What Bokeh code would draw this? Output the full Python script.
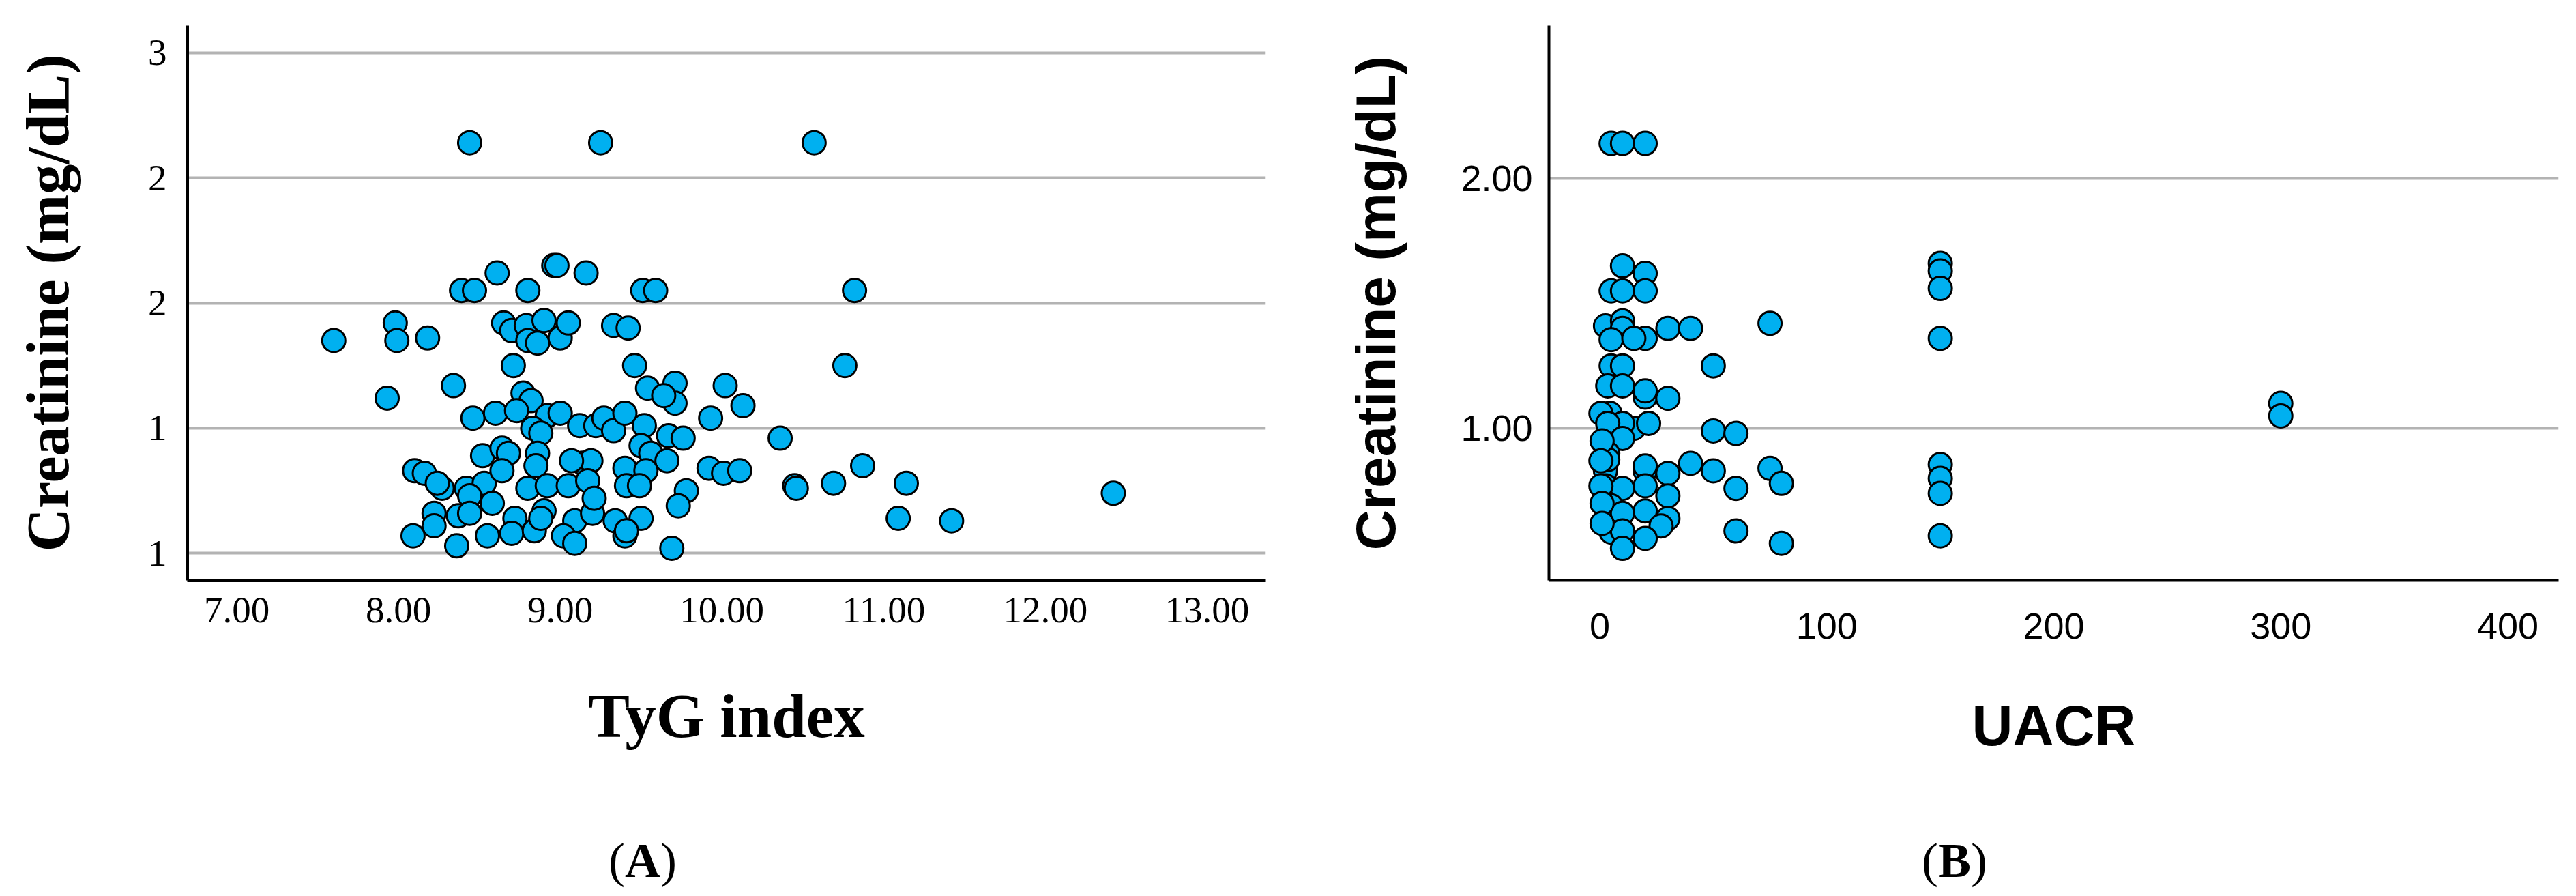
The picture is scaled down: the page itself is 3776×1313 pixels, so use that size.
from bokeh.plotting import figure
from bokeh.models import FixedTicker, NumeralTickFormatter, Range1d, Div
from bokeh.layouts import row, column
from bokeh.embed import file_html
from bokeh.resources import INLINE

# ---------------- Panel A data: TyG index vs creatinine ----------------
tyg = [8.44, 9.25, 10.57, 10.82,
       8.39, 8.47, 8.61, 8.80, 8.96, 8.98, 9.16, 9.51, 9.59,
       7.60, 7.98, 7.99, 8.18, 8.65, 8.70, 8.79, 8.80, 8.86, 8.90, 9.00, 9.05, 9.33, 9.42,
       8.71, 9.46, 7.93, 8.34, 9.54, 9.71, 9.71, 9.64, 10.02, 9.93, 8.77, 8.82, 8.46, 8.60,
       8.73, 8.92, 9.00, 8.83, 8.88, 9.12, 9.22, 9.27, 9.33, 9.40, 9.52, 9.50, 9.67, 9.76,
       9.56, 9.66, 9.92, 10.01, 10.11, 8.52, 8.64, 8.68, 8.86, 8.85, 8.10, 8.16, 8.27, 8.24,
       8.42, 8.53, 8.64, 8.80, 8.92, 9.05, 9.14, 9.19, 9.07, 9.17, 9.40, 9.41, 9.53, 9.49,
       9.78, 9.73, 8.58, 8.44, 8.22, 8.37, 8.44, 8.22, 8.09, 8.36, 8.55, 8.72, 8.70, 8.84,
       8.90, 8.88, 9.09, 9.02, 9.09, 9.20, 9.21, 9.34, 9.40, 9.50, 9.69, 9.41,
       10.76, 10.13, 10.36, 10.45, 10.46, 10.69, 10.87, 11.14, 11.09, 11.42, 12.42]
creat_a = [2.14, 2.14, 2.14, 1.55,
           1.55, 1.55, 1.62, 1.55, 1.65, 1.65, 1.62, 1.55, 1.55,
           1.35, 1.42, 1.35, 1.36, 1.42, 1.39, 1.41, 1.35, 1.34, 1.43, 1.36, 1.42, 1.41, 1.40,
           1.25, 1.25, 1.12, 1.17, 1.16, 1.18, 1.10, 1.13, 1.17, 1.04, 1.14, 1.11, 1.04, 1.06,
           1.07, 1.05, 1.06, 1.00, 0.98, 1.01, 1.01, 1.04, 0.99, 1.06, 1.01, 0.93, 0.97, 0.96,
           0.90, 0.87, 0.84, 0.82, 0.83, 0.89, 0.92, 0.90, 0.90, 0.85, 0.83, 0.82, 0.76, 0.78,
           0.76, 0.78, 0.83, 0.76, 0.77, 0.77, 0.86, 0.87, 0.87, 0.79, 0.84, 0.77, 0.83, 0.77,
           0.75, 0.69, 0.70, 0.73, 0.66, 0.65, 0.66, 0.61, 0.57, 0.53, 0.57, 0.64, 0.58, 0.59,
           0.67, 0.64, 0.63, 0.57, 0.54, 0.66, 0.72, 0.63, 0.57, 0.64, 0.52, 0.59,
           1.25, 1.09, 0.96, 0.77, 0.76, 0.78, 0.85, 0.78, 0.64, 0.63, 0.74]

a_x_ticks = [7, 8, 9, 10, 11, 12, 13]
a_y_ticks = [0.5, 1.0, 1.5, 2.0, 2.5]
a_y_tick_labels = ["1", "1", "2", "2", "3"]

# ---------------- Panel B data: UACR vs creatinine ----------------
uacr = [5, 10, 20,
        10, 20, 5, 10, 20,
        75,
        2.5, 10, 10, 20, 30, 40, 5, 15,
        50, 5, 10,
        3.5, 10, 20, 20, 30,
        4.5, 0.5, 15, 21.5, 10, 3.5, 10,
        50, 60,
        3.5, 2.5, 3.5, 20, 20, 30, 40, 50, 60, 75, 80,
        2.5, 10, 20, 30, 5, 10, 20, 30, 27, 5, 10, 20, 10, 60, 80,
        0.5, 1, 1, 0.5, 1,
        150, 150, 150, 150, 150, 150, 150, 150,
        300, 300]
creat_b = [2.14, 2.14, 2.14,
           1.65, 1.62, 1.55, 1.55, 1.55,
           1.42,
           1.41, 1.43, 1.40, 1.36, 1.40, 1.40, 1.355, 1.36,
           1.25, 1.25, 1.25,
           1.17, 1.17, 1.125, 1.15, 1.12,
           1.06, 1.06, 1.00, 1.02, 1.02, 1.02, 0.96,
           0.99, 0.98,
           0.90, 0.83, 0.875, 0.83, 0.85, 0.82, 0.86, 0.83, 0.76, 0.84, 0.78,
           0.77, 0.76, 0.77, 0.73, 0.69, 0.66, 0.67, 0.64, 0.61, 0.585, 0.59, 0.56, 0.52, 0.59, 0.54,
           0.77, 0.70, 0.95, 0.87, 0.62,
           1.66, 1.63, 1.56, 1.36, 0.855, 0.80, 0.74, 0.57,
           1.10, 1.05]

b_x_ticks = [0, 100, 200, 300, 400]
b_y_ticks = [1.0, 2.0]

FILL = "#00b0f0"
SERIF = "Liberation Serif"
SANS = "Liberation Sans"
FIG_H = 1200


def style_common(p, axis_w):
    p.outline_line_color = None
    p.background_fill_color = "white"
    p.border_fill_color = "white"
    for ax in (p.xaxis[0], p.yaxis[0]):
        ax.axis_line_color = "black"
        ax.axis_line_width = axis_w
        ax.major_tick_line_color = None
        ax.minor_tick_line_color = None
        ax.major_tick_out = 0
        ax.major_tick_in = 0
        ax.major_label_text_color = "black"
        ax.axis_label_text_color = "black"
    p.xgrid.grid_line_color = None
    p.ygrid.grid_line_color = "#b3b3b3"
    p.ygrid.grid_line_width = 4


# ---------------- Panel A ----------------
pA = figure(width=1968, height=FIG_H,
            x_range=Range1d(6.694, 13.363), y_range=Range1d(0.392, 2.608),
            output_backend="svg", toolbar_location=None,
            min_border_left=274, min_border_right=113,
            min_border_top=32, min_border_bottom=FIG_H - 850)
style_common(pA, 5)
pA.xaxis.ticker = FixedTicker(ticks=a_x_ticks)
pA.xaxis.formatter = NumeralTickFormatter(format="0.00")
pA.yaxis.ticker = FixedTicker(ticks=a_y_ticks)
pA.ygrid.ticker = FixedTicker(ticks=a_y_ticks)
pA.yaxis.major_label_overrides = {t: s for t, s in zip(a_y_ticks, a_y_tick_labels)}
for ax in (pA.xaxis[0], pA.yaxis[0]):
    ax.major_label_text_font = SERIF
    ax.major_label_text_font_size = "55px"
    ax.axis_label_text_font = SERIF
pA.xaxis.major_label_standoff = 25
pA.yaxis.major_label_standoff = 30
pA.xaxis.axis_label = "TyG index"
pA.xaxis.axis_label_text_font_size = "91px"
pA.xaxis.axis_label_text_font_style = "bold"
pA.xaxis.axis_label_standoff = 84
pA.yaxis.axis_label = "Creatinine (mg/dL)"
pA.yaxis.axis_label_text_font_size = "88px"
pA.yaxis.axis_label_text_font_style = "bold"
pA.yaxis.axis_label_standoff = 95

pA.scatter(tyg, creat_a, size=34, fill_color=FILL, line_color="black", line_width=3)

# ---------------- Panel B ----------------
pB = figure(width=1808, height=FIG_H,
            x_range=Range1d(-22.4, 422.4), y_range=Range1d(0.392, 2.611),
            output_backend="svg", toolbar_location=None,
            min_border_left=292, min_border_right=26,
            min_border_top=37, min_border_bottom=FIG_H - 858)
style_common(pB, 4)
pB.xaxis.ticker = FixedTicker(ticks=b_x_ticks)
pB.yaxis.ticker = FixedTicker(ticks=b_y_ticks)
pB.ygrid.ticker = FixedTicker(ticks=b_y_ticks)
pB.yaxis.formatter = NumeralTickFormatter(format="0.00")
for ax in (pB.xaxis[0], pB.yaxis[0]):
    ax.major_label_text_font = SANS
    ax.major_label_text_font_size = "54px"
    ax.axis_label_text_font = SANS
pB.xaxis.major_label_standoff = 48
pB.yaxis.major_label_standoff = 24
pB.xaxis.axis_label = "UACR"
pB.xaxis.axis_label_text_font_size = "83px"
pB.xaxis.axis_label_text_font_style = "bold"
pB.xaxis.axis_label_standoff = 78
pB.yaxis.axis_label = "Creatinine (mg/dL)"
pB.yaxis.axis_label_text_font_size = "82px"
pB.yaxis.axis_label_text_font_style = "bold"
pB.yaxis.axis_label_standoff = 76

pB.scatter(uacr, creat_b, size=34, fill_color=FILL, line_color="black", line_width=3)

# ---------------- panel letters (A) / (B) ----------------
LETTER_STYLE = ("padding-top:25px; font-family:'Liberation Serif'; font-size:72px; "
                "line-height:1; white-space:nowrap; color:black;")
divA = Div(text=f'<div style="padding-left:892px; {LETTER_STYLE}">(<b>A</b>)</div>',
           width=1968, height=1313 - FIG_H, margin=(0, 0, 0, 0))
divB = Div(text=f'<div style="padding-left:849px; {LETTER_STYLE}">(<b>B</b>)</div>',
           width=1808, height=1313 - FIG_H, margin=(0, 0, 0, 0))

layout = column(row(pA, pB), row(divA, divB))
open("out.html", "w").write(file_html(layout, INLINE))
